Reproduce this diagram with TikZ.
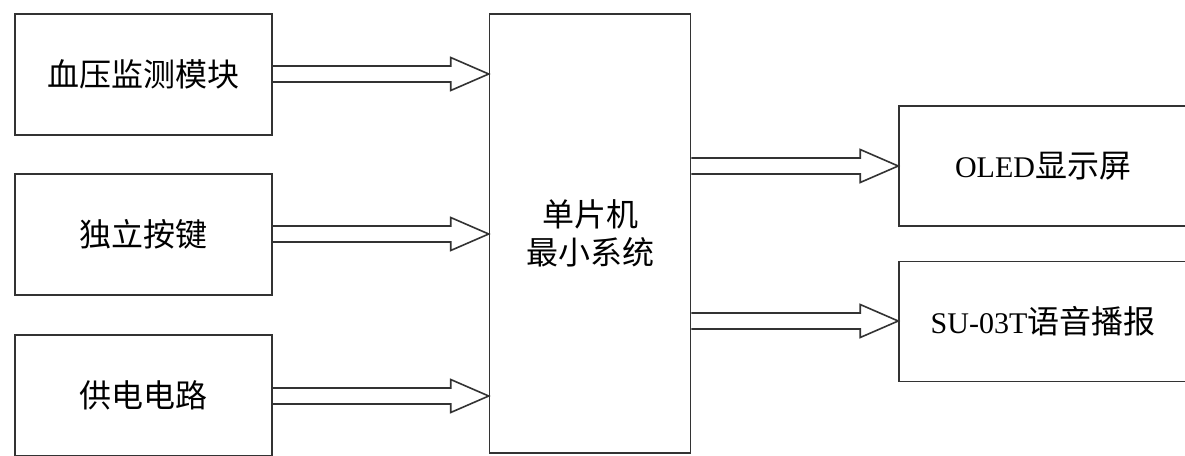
\documentclass[tikz,border=0pt]{standalone}
\usepackage{fontspec}
\setmainfont{Noto Sans CJK SC}
\newfontfamily\latfont{Liberation Serif}
\usetikzlibrary{calc}
\tikzset{
  box/.style={draw=black!80, line width=1.6pt, fill=white, inner sep=0pt, anchor=center,
    font=\fontsize{32}{37.5}\selectfont, align=center, text=black},
  arrline/.style={draw=black!80, line width=1.6pt, line join=miter},
}
\newcommand\harrow[3]{%
  \path (#1.east |- 0,#3) coordinate (s) (#2.west |- 0,#3) coordinate (t);
  \draw[arrline] ($(s)+(0,-8)$) -- ($(t)+(-38,-8)$) -- ($(t)+(-38,-16.5)$) -- (t)
     -- ($(t)+(-38,16.5)$) -- ($(t)+(-38,8)$) -- ($(s)+(0,8)$);
}
\newcommand\lt[1]{{\latfont\fontsize{30}{37.5}\selectfont #1}}
\begin{document}
\begin{tikzpicture}[x=1pt,y=-1pt]
\useasboundingbox (0,0) rectangle (1185,455);
\clip (0,0) rectangle (1185,455);
\fill[white] (0,0) rectangle (1185,455);
\node[box, minimum width=257pt, minimum height=121pt] (bp) at (143.5,74.5) {血压监测模块};
\node[box, minimum width=257pt, minimum height=121pt] (key) at (143.5,234.5) {独立按键};
\node[box, minimum width=257pt, minimum height=121pt] (pwr) at (143.5,395.5) {供电电路};
\node[box, minimum width=201pt, minimum height=439pt] (mcu) at (590,233.5) {单片机\\最小系统};
\node[box, minimum width=288pt, minimum height=120pt] (oled) at (1043,166) {\lt{OLED}显示屏};
\node[box, minimum width=288pt, minimum height=120pt] (voice) at (1043,321.5) {\lt{SU-03T}语音播报};
\harrow{bp}{mcu}{74}
\harrow{key}{mcu}{234}
\harrow{pwr}{mcu}{396}
\harrow{mcu}{oled}{166}
\harrow{mcu}{voice}{321}
\end{tikzpicture}
\end{document}
